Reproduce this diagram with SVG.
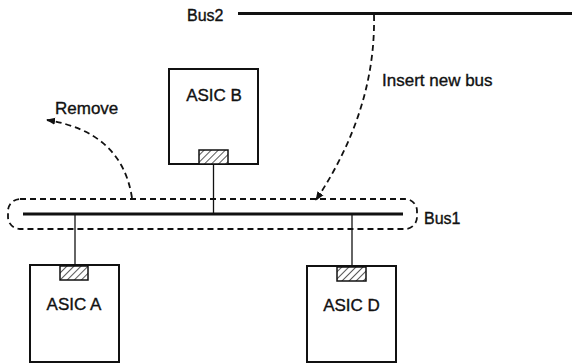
<svg xmlns="http://www.w3.org/2000/svg" width="572" height="364" viewBox="0 0 572 364">
<style>
text{font-family:"Liberation Sans",Arial,sans-serif;fill:#111;stroke:#111;stroke-width:0.35}
.box{fill:none;stroke:#111;stroke-width:2}
.port{fill:url(#hatch);stroke:#111;stroke-width:1.5}
.bus{stroke:#111;stroke-width:3}
.wire{stroke:#111;stroke-width:1.3}
.dash{fill:none;stroke:#111;stroke-width:1.8;stroke-dasharray:6 4}
.lbl{font-size:17px}
.asic{font-size:17px;text-anchor:middle}
</style>
<defs>
<pattern id="hatch" width="5" height="5" patternUnits="userSpaceOnUse" patternTransform="rotate(45)">
<rect width="5" height="5" fill="#fff"/>
<line x1="0" y1="0" x2="0" y2="5" stroke="#111" stroke-width="1.4"/>
</pattern>
<marker id="ah" viewBox="0 0 10 10" refX="9" refY="5" markerWidth="9" markerHeight="9" markerUnits="userSpaceOnUse" orient="auto">
<path d="M0,1 L10,5 L0,9 Z" fill="#111"/>
</marker>
</defs>
<rect width="572" height="364" fill="#fff"/>
<g id="bus2">
<line class="bus" x1="238" y1="13.5" x2="572" y2="13.5"/>
<text x="187" y="20.5" font-size="16">Bus2</text>
</g>
<g id="bus1">
<rect class="dash" x="8" y="199" width="409" height="30" rx="12"/>
<line class="bus" x1="23" y1="214" x2="403" y2="214"/>
<text x="424" y="224" font-size="16">Bus1</text>
</g>
<g id="asicB">
<rect class="box" x="169" y="69" width="89" height="95"/>
<rect class="port" x="199" y="150" width="29" height="14"/>
<text class="asic" x="214" y="101">ASIC B</text>
</g>
<g id="asicA">
<rect class="box" x="30" y="265" width="89" height="97"/>
<rect class="port" x="60" y="266" width="28" height="14"/>
<text class="asic" x="74" y="310">ASIC A</text>
</g>
<g id="asicD">
<rect class="box" x="307" y="266" width="89" height="96"/>
<rect class="port" x="337" y="267" width="29" height="14"/>
<text class="asic" x="351.5" y="310.5">ASIC D</text>
</g>
<g id="connectors">
<line class="wire" x1="213.5" y1="164" x2="213.5" y2="214"/>
<line class="wire" x1="75" y1="214" x2="75" y2="265"/>
<line class="wire" x1="352" y1="214" x2="352" y2="266"/>
<path class="dash" d="M132,198 Q122,132 47,120" marker-end="url(#ah)"/>
<path class="dash" d="M374,15 Q376,110 316,200" marker-end="url(#ah)"/>
</g>
<g id="labels">
<text class="lbl" x="55" y="113.5">Remove</text>
<text class="lbl" x="382" y="86">Insert new bus</text>
</g>
</svg>
